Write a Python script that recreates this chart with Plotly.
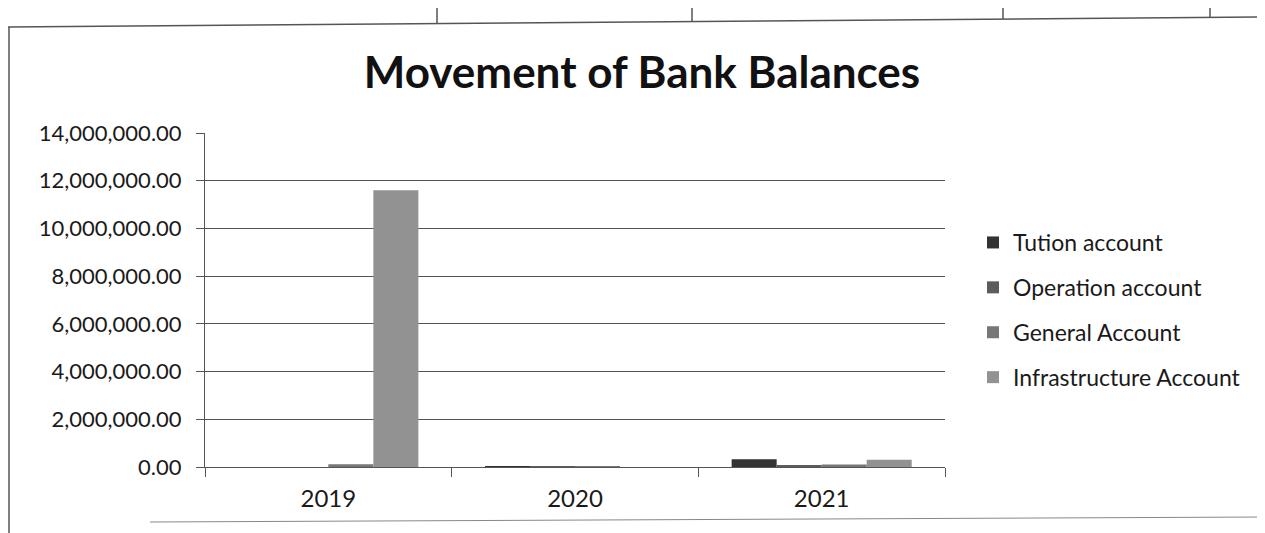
import plotly.graph_objects as go

years = ["2019", "2020", "2021"]
series_names = ["Tution account", "Operation account", "General Account", "Infrastructure Account"]
tution = [0, 40000, 330000]
operation = [0, 10000, 60000]
general = [120000, 10000, 110000]
infrastructure = [11600000, 0, 300000]
series_values = [tution, operation, general, infrastructure]
colors = ["#333333", "#5c5c5c", "#777777", "#929292"]
y_ticks = [0, 2000000, 4000000, 6000000, 8000000, 10000000, 12000000, 14000000]

FONT = "Lato"
OFF = 8  # page body margin
W, H = 1265 - OFF, 533 - OFF
PL, PR, PT, PB = 205, 945, 133, 467  # plot area in screen px


def px(sx):
    return (sx - PL) / (PR - PL)


def py(sy):
    return (PB - sy) / (PB - PT)


fig = go.Figure()
for i, (name, vals) in enumerate(zip(series_names, series_values)):
    fig.add_trace(go.Bar(
        x=years, y=vals, name=name, legendgroup=name,
        marker=dict(color=colors[i], line=dict(width=0)),
    ))

fig.update_layout(
    width=W, height=H,
    paper_bgcolor="white", plot_bgcolor="white",
    margin=dict(l=PL - OFF, r=W - (PR - OFF), t=PT - OFF, b=H - (PB - OFF), autoexpand=False),
    barmode="group", bargap=0.27, bargroupgap=0,
    font=dict(family=FONT, color="#1a1a1a", size=22),
    title=dict(text="<b>Movement of Bank Balances</b>", font=dict(family=FONT, size=44, color="#111"),
               x=(642 - OFF) / W, xref="container", xanchor="center",
               y=1 - (73 - OFF) / H, yref="container", yanchor="middle"),
    legend=dict(x=px(973), xanchor="left", y=py(310), yanchor="middle",
                font=dict(family=FONT, size=23, color="#1a1a1a"),
                tracegroupgap=12, itemwidth=30, bgcolor="rgba(0,0,0,0)"),
    showlegend=True,
)
fig.update_xaxes(
    showline=True, linecolor="#555", linewidth=1,
    ticks="outside", tickson="boundaries", ticklen=9, tickcolor="#555",
    tickfont=dict(family=FONT, size=24), showgrid=False, ticklabelstandoff=10,
)
fig.update_yaxes(
    range=[0, 14000000], tickvals=y_ticks, tickformat=",.2f",
    showline=True, linecolor="#555", linewidth=1,
    ticks="outside", ticklen=8, tickcolor="#555",
    showgrid=True, gridcolor="#555", gridwidth=1, zeroline=False,
    tickfont=dict(family=FONT, size=22), ticklabelstandoff=10,
)

# scanned page frame lines
line = dict(color="#555", width=1.5)
fig.add_shape(type="line", xref="paper", yref="paper",
              x0=px(0), y0=py(27), x1=px(1265), y1=py(17), line=line)
for sx, sy in [(437, 23), (692, 21), (1003, 19), (1210, 17)]:
    fig.add_shape(type="line", xref="paper", yref="paper",
                  x0=px(sx), y0=py(0), x1=px(sx), y1=py(sy), line=line)
fig.add_shape(type="line", xref="paper", yref="paper",
              x0=px(9), y0=py(27), x1=px(9), y1=py(533), line=line)
fig.add_shape(type="line", xref="paper", yref="paper",
              x0=px(150), y0=py(522), x1=px(1265), y1=py(517),
              line=dict(color="#888", width=1))

fig.write_html("out.html")
